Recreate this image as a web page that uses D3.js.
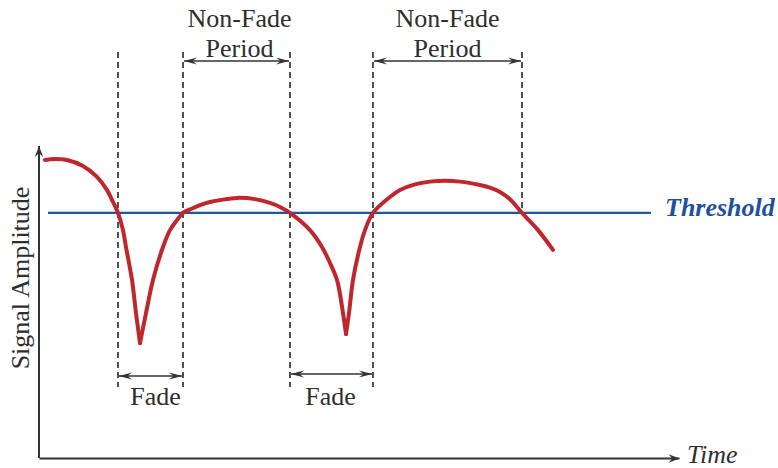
<!DOCTYPE html>
<html>
<head>
<meta charset="utf-8">
<script src="https://cdn.jsdelivr.net/npm/d3@7"></script>
<style>
  html, body { margin: 0; padding: 0; background: #ffffff; }
  svg { display: block; }
  text { font-family: "Liberation Serif", "Times New Roman", serif; fill: #2e2e2e; }
</style>
</head>
<body>
<svg id="chart" width="778" height="468"></svg>
<script>
// ---- data ----
const timeValues = [6,16,28,44,58,68,74,79,84,87,93,97,101,107,114,124,131,138,144,153,161,171,181,198,216,231,241,251,271,283,291,298,304,307,310,314,321,326,334,351,361,376,391,406,421,441,451,461,471,483,498,514];
const amplitudeValues = [95.2,95.5,95.2,93.3,89.8,85.6,81.8,78.3,72.8,67.4,56.9,46.3,36.7,46.3,56.9,67.4,72.8,76.0,78.3,79.7,80.8,81.8,82.4,83.1,82.7,81.5,80.2,78.3,72.8,67.4,62.3,56.9,46.3,39.6,46.3,56.9,67.4,72.8,78.3,83.4,85.6,87.4,88.3,88.6,88.3,87.2,86.4,85.0,82.7,78.3,73.2,66.5];
const thresholdValue = 78.3;
const thresholdSpan = [9, 612];
const boundaryTimes = [79, 144, 251, 334, 483];
const fadePeriods = [[79, 144], [251, 334]];
const nonFadePeriods = [[144, 251], [334, 483]];
const fadeLabel = "Fade";
const nonFadeLabel = ["Non-Fade", "Period"];
const xLabel = "Time";
const yLabel = "Signal Amplitude";
const thresholdLabel = "Threshold";

// ---- layout ----
const svg = d3.select("#chart");
const x = d3.scaleLinear().domain([0, 640]).range([39, 679]);
const y = d3.scaleLinear().domain([0, 100]).range([458, 145]);

const defs = svg.append("defs");
function arrowMarker(id, color, len, half) {
  defs.append("marker")
    .attr("id", id).attr("viewBox", "-16 -6 18 12")
    .attr("refX", 0).attr("refY", 0)
    .attr("markerWidth", 18).attr("markerHeight", 12)
    .attr("markerUnits", "userSpaceOnUse")
    .attr("orient", "auto-start-reverse")
    .append("path")
    .attr("d", `M0,0 L${-len},${-half} L${-len * 0.65},0 L${-len},${half} Z`)
    .attr("fill", color);
}
arrowMarker("axisArrow", "#333", 11, 4.2);
arrowMarker("dimArrow", "#333", 13, 3.6);

// axes (no ticks)
const xAxis = svg.append("g")
  .attr("transform", `translate(0,${y(0)})`)
  .call(d3.axisBottom(x).tickValues([]).tickSizeOuter(0));
xAxis.select(".domain").attr("stroke", "#333").attr("stroke-width", 2)
  .attr("marker-end", "url(#axisArrow)");

const yAxis = svg.append("g")
  .attr("transform", `translate(${x(0)},0)`)
  .call(d3.axisLeft(y).tickValues([]).tickSizeOuter(0));
yAxis.select(".domain").attr("stroke", "#333").attr("stroke-width", 2)
  .attr("d", `M0,${y(0)}V${y(100) + 1}`)
  .attr("marker-end", "url(#axisArrow)");

// dashed boundaries
const dashTop = 52, dashBottom = 387;
svg.append("g").selectAll("line")
  .data(boundaryTimes)
  .join("line")
  .attr("x1", d => x(d)).attr("x2", d => x(d))
  .attr("y1", dashTop)
  .attr("y2", (d, i) => i === boundaryTimes.length - 1 ? y(thresholdValue) : dashBottom)
  .attr("stroke", "#333").attr("stroke-width", 1.7)
  .attr("stroke-dasharray", "6,4");

// threshold line
svg.append("line")
  .attr("x1", x(thresholdSpan[0])).attr("x2", x(thresholdSpan[1]))
  .attr("y1", y(thresholdValue)).attr("y2", y(thresholdValue))
  .attr("stroke", "#1f55a6").attr("stroke-width", 2.2);

svg.append("text")
  .attr("x", 665).attr("y", 216)
  .style("font-size", "26px").style("font-weight", "bold").style("font-style", "italic")
  .style("fill", "#1f4f9e")
  .text(thresholdLabel);

// signal curve, split at the fade minima so that they stay sharp
const pts = timeValues.map((t, i) => [t, amplitudeValues[i]]);
const minIdx = [];
for (let i = 1; i < pts.length - 1; i++) {
  if (pts[i][1] < pts[i - 1][1] && pts[i][1] < pts[i + 1][1]) minIdx.push(i);
}
const cuts = [0, ...minIdx, pts.length - 1];
const pieces = [];
for (let k = 0; k < cuts.length - 1; k++) pieces.push(pts.slice(cuts[k], cuts[k + 1] + 1));
const line = d3.line().x(d => x(d[0])).y(d => y(d[1])).curve(d3.curveCatmullRom.alpha(0.5));
svg.append("g").selectAll("path")
  .data(pieces)
  .join("path")
  .attr("d", line)
  .attr("fill", "none")
  .attr("stroke", "#c0272d").attr("stroke-width", 4)
  .attr("stroke-linecap", "round").attr("stroke-linejoin", "round");

// dimension arrows
function dimArrow(x1, x2, yy) {
  svg.append("line")
    .attr("x1", x1 + 1).attr("x2", x2 - 1).attr("y1", yy).attr("y2", yy)
    .attr("stroke", "#333").attr("stroke-width", 1.5)
    .attr("marker-start", "url(#dimArrow)").attr("marker-end", "url(#dimArrow)");
}
fadePeriods.forEach((p, i) => {
  const yy = i === 0 ? 376 : 374;
  dimArrow(x(p[0]), x(p[1]), yy);
  svg.append("text")
    .attr("x", (x(p[0]) + x(p[1])) / 2 + (i === 0 ? 5 : -1)).attr("y", 405)
    .attr("text-anchor", "middle").style("font-size", "26px")
    .text(fadeLabel);
});
nonFadePeriods.forEach((p, i) => {
  const cx = (x(p[0]) + x(p[1])) / 2 + (i === 0 ? 3 : 0);
  dimArrow(x(p[0]), x(p[1]), 61);
  svg.append("text").attr("x", cx).attr("y", 27)
    .attr("text-anchor", "middle").style("font-size", "26px").text(nonFadeLabel[0]);
  svg.append("text").attr("x", cx).attr("y", 57)
    .attr("text-anchor", "middle").style("font-size", "26px").text(nonFadeLabel[1]);
});

// axis labels
svg.append("text")
  .attr("x", 687).attr("y", 463)
  .style("font-size", "26px").style("font-style", "italic")
  .text(xLabel);

svg.append("text")
  .attr("transform", "translate(29,278) rotate(-90)")
  .attr("text-anchor", "middle").style("font-size", "26px")
  .text(yLabel);
</script>
</body>
</html>
